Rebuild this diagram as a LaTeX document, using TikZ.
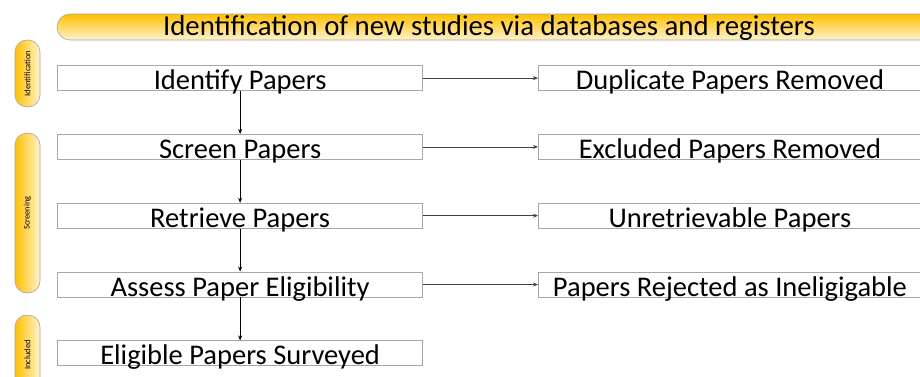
\documentclass[tikz,border=0pt]{standalone}
\usepackage{fontspec}
\setmainfont{Carlito}
\usetikzlibrary{matrix, arrows.meta}

\definecolor{amber}{HTML}{FFC000}
\definecolor{paleamber}{HTML}{FFF2CC}

\tikzset{
  stage/.style = {draw = gray!70, line width = 0.8pt, text height = 24pt, text depth = 1pt, inner sep = 0pt,
                  font = \fontsize{28.5}{30}\selectfont},
  leftbox/.style = {stage, minimum width = 365pt},
  rightbox/.style = {stage, minimum width = 383pt},
  phase/.style = {draw = gray!70, line width = 0.6pt, rotate = 90, rounded corners = 12pt,
                  minimum height = 25pt, inner sep = 0pt, left color = amber, right color = paleamber,
                  font = \fontsize{8.5}{9}\selectfont},
  flow/.style = {-{Stealth[length = 5pt, width = 4pt]}, line width = 0.7pt}
}

\begin{document}
\begin{tikzpicture}[x = 1pt, y = -1pt]
\clip (0,0) rectangle (920,376);
\fill[white] (0,0) rectangle (920,376);

% banner across the top
\shade[draw = gray!70, line width = 0.6pt, rounded corners = 13pt, top color = amber, bottom color = paleamber]
  (57,14) rectangle (950,40);
\node[font = \fontsize{28.8}{30}\selectfont, anchor = base, inner sep = 0pt] (title) at (489,35) {Identification of new studies via databases and registers};

% the phases on the left
\node[phase, minimum width = 67pt] (p1) at (27.5,73.5) {Identification};
\node[phase, minimum width = 160pt] (p2) at (27.5,213) {Screening};
\node[phase, minimum width = 80pt] (p3) at (27.5,355) {Included};

\matrix (m) [matrix of nodes, column sep = 115pt, row sep = 43pt, inner sep = 0pt, anchor = north west] at (57,65) {
\node[leftbox](s1){Identify Papers}; & \node[rightbox](r1){Duplicate Papers Removed}; \\
\node[leftbox](s2){Screen Papers}; & \node[rightbox](r2){Excluded Papers Removed}; \\
\node[leftbox](s3){Retrieve Papers}; & \node[rightbox](r3){Unretrievable Papers}; \\
\node[leftbox](s4){Assess Paper Eligibility}; & \node[rightbox](r4){Papers Rejected as Ineligigable}; \\
\node[leftbox](s5){Eligible Papers Surveyed}; & \\
};
\draw[flow] (s1) -- (s2);
\draw[flow] (s2) -- (s3);
\draw[flow] (s3) -- (s4);
\draw[flow] (s4) -- (s5);
\draw[flow, black!75] (s1) -- (r1);
\draw[flow, black!75] (s2) -- (r2);
\draw[flow, black!75] (s3) -- (r3);
\draw[flow, black!75] (s4) -- (r4);
\end{tikzpicture}
\end{document}
